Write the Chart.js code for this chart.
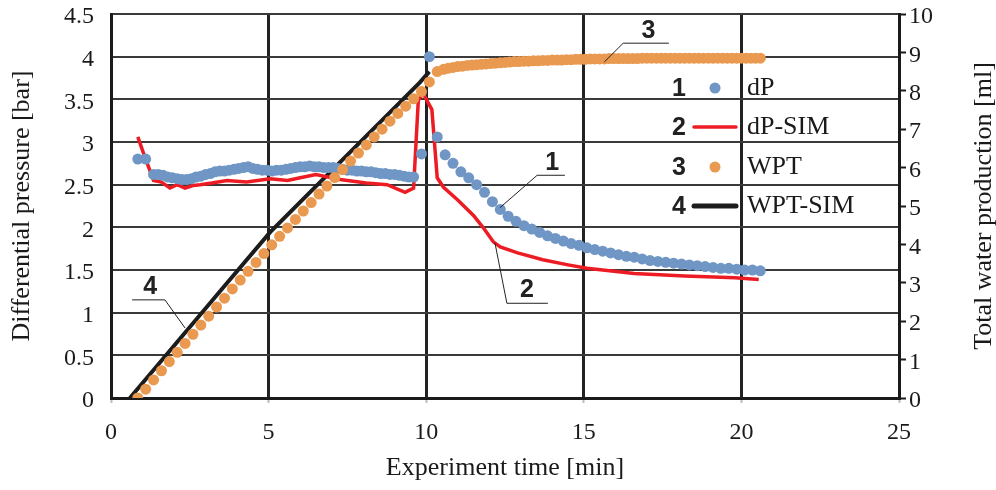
<!DOCTYPE html>
<html>
<head>
<meta charset="utf-8">
<script src="https://cdn.jsdelivr.net/npm/chart.js@4.4.1/dist/chart.umd.min.js"></script>
<style>
  body { margin: 0; background: #fff; }
  canvas { display: block; }
</style>
</head>
<body>
<canvas id="chart" width="996" height="490"></canvas>
<script>
// ---- data ----
// measured differential pressure (left axis)
const dpTime = [
  0.85, 1.10,
  1.35, 1.50, 1.65, 1.80, 1.95, 2.10, 2.25, 2.40, 2.55, 2.70,
  2.85, 3.00, 3.15, 3.30, 3.45, 3.60, 3.75, 3.90, 4.05, 4.20,
  4.35, 4.50, 4.65, 4.80, 4.95, 5.10, 5.25, 5.40, 5.55, 5.70,
  5.85, 6.00, 6.15, 6.30, 6.45, 6.60, 6.75, 6.90, 7.05, 7.20,
  7.35, 7.50, 7.65, 7.80, 7.95, 8.10, 8.25, 8.40, 8.55, 8.70,
  8.85, 9.00, 9.15, 9.30, 9.45, 9.60,
  9.85, 10.10, 10.35, 10.60, 10.85, 11.10, 11.35, 11.60, 11.85, 12.10,
  12.35, 12.60, 12.85, 13.10, 13.35, 13.60, 13.85, 14.10, 14.35, 14.60,
  14.85, 15.10, 15.35, 15.60, 15.85, 16.10, 16.35, 16.60, 16.85, 17.10,
  17.35, 17.60, 17.85, 18.10, 18.35, 18.60, 18.85, 19.10, 19.35, 19.60,
  19.85, 20.10, 20.35, 20.60
];
const dpValues = [
  2.80, 2.80,
  2.62, 2.62, 2.61, 2.59, 2.58, 2.57, 2.56, 2.56, 2.57, 2.59,
  2.60, 2.62, 2.63, 2.65, 2.66, 2.66, 2.67, 2.68, 2.69, 2.70,
  2.71, 2.69, 2.68, 2.67, 2.67, 2.66, 2.67, 2.67, 2.68, 2.69,
  2.70, 2.71, 2.71, 2.72, 2.71, 2.71, 2.70, 2.70, 2.70, 2.69,
  2.68, 2.67, 2.67, 2.66, 2.66, 2.65, 2.65, 2.64, 2.63, 2.63,
  2.62, 2.62, 2.61, 2.60, 2.59, 2.59,
  2.86, 4.00, 3.06, 2.85, 2.75, 2.65, 2.58, 2.50, 2.41, 2.30,
  2.21, 2.13, 2.07, 2.02, 1.98, 1.94, 1.90, 1.87, 1.84, 1.81,
  1.79, 1.76, 1.74, 1.72, 1.70, 1.68, 1.66, 1.65, 1.63, 1.61,
  1.60, 1.59, 1.58, 1.57, 1.56, 1.55, 1.54, 1.53, 1.52, 1.52,
  1.51, 1.50, 1.50, 1.49
];

// measured total water production (right axis)
const wptTime = [
  0.85, 1.10, 1.35, 1.60, 1.85, 2.10, 2.35, 2.60, 2.85, 3.10,
  3.35, 3.60, 3.85, 4.10, 4.35, 4.60, 4.85, 5.10, 5.35, 5.60,
  5.85, 6.10, 6.35, 6.60, 6.85, 7.10, 7.35, 7.60, 7.85, 8.10,
  8.35, 8.60, 8.85, 9.10, 9.35, 9.60, 9.85, 10.10, 10.35,
  10.55, 10.70, 10.85, 11.00, 11.15, 11.30, 11.45, 11.60, 11.75, 11.90,
  12.05, 12.20, 12.35, 12.50, 12.65, 12.80, 12.95, 13.10, 13.25, 13.40,
  13.55, 13.70, 13.85, 14.00, 14.15, 14.30, 14.45, 14.60, 14.75, 14.90,
  15.05, 15.20, 15.35, 15.50, 15.65, 15.80, 15.95, 16.10, 16.25, 16.40,
  16.55, 16.70, 16.85, 17.00, 17.15, 17.30, 17.45, 17.60, 17.75, 17.90,
  18.05, 18.20, 18.35, 18.50, 18.65, 18.80, 18.95, 19.10, 19.25, 19.40,
  19.55, 19.70, 19.85, 20.00, 20.15, 20.30, 20.45, 20.60
];
const wptValues = [
  0.00, 0.23, 0.47, 0.71, 0.95, 1.19, 1.42, 1.66, 1.90, 2.13,
  2.37, 2.60, 2.84, 3.07, 3.30, 3.53, 3.76, 3.99, 4.21, 4.43,
  4.65, 4.87, 5.09, 5.31, 5.52, 5.74, 5.95, 6.17, 6.38, 6.59,
  6.80, 7.00, 7.21, 7.41, 7.60, 7.79, 7.98, 8.23, 8.50,
  8.56, 8.59, 8.61, 8.63, 8.64, 8.66, 8.67, 8.68, 8.69, 8.70,
  8.71, 8.72, 8.73, 8.74, 8.75, 8.76, 8.76, 8.77, 8.77, 8.78,
  8.78, 8.79, 8.79, 8.80, 8.80, 8.80, 8.81, 8.81, 8.82, 8.82,
  8.82, 8.83, 8.83, 8.83, 8.83, 8.84, 8.84, 8.84, 8.84, 8.84,
  8.84, 8.84, 8.85, 8.85, 8.85, 8.85, 8.85, 8.85, 8.85, 8.85,
  8.85, 8.85, 8.85, 8.85, 8.85, 8.85, 8.85, 8.85, 8.85, 8.85,
  8.85, 8.85, 8.85, 8.85, 8.85, 8.85, 8.85, 8.85
];

// simulation
const dpSimTime = [
  0.85, 1.05, 1.35, 1.60, 1.87, 2.10, 2.35, 2.60, 2.83, 3.20,
  3.68, 4.30, 5.05, 5.60, 6.00, 6.50, 7.27, 8.10, 8.76, 9.33,
  9.60, 9.75, 9.90, 10.18, 10.35, 10.55, 11.00, 11.50, 11.80, 12.13,
  12.35, 12.90, 13.70, 14.50, 15.10, 16.60, 18.20, 19.80, 20.55
];
const dpSimValues = [
  3.06, 2.85, 2.55, 2.53, 2.46, 2.50, 2.46, 2.49, 2.50, 2.52,
  2.55, 2.53, 2.57, 2.55, 2.58, 2.62, 2.56, 2.52, 2.50, 2.41,
  2.46, 3.49, 3.57, 3.38, 2.58, 2.47, 2.32, 2.14, 2.00, 1.83,
  1.77, 1.70, 1.62, 1.56, 1.52, 1.46, 1.43, 1.41, 1.39
];
const wptSimTime = [0.60, 2.00, 3.50, 5.05, 6.50, 8.00, 9.00, 9.80, 10.10];
const wptSimValues = [0.00, 1.36, 2.82, 4.32, 5.51, 6.74, 7.56, 8.22, 8.50];

const seriesNames = ["dP", "dP-SIM", "WPT", "WPT-SIM"];
const xTitle = "Experiment time [min]";
const yTitle = "Differential pressure [bar]";
const y2Title = "Total water production [ml]";

// ---- helpers ----
function pairs(xs, ys) {
  return xs.map((x, i) => ({ x: x, y: ys[i] }));
}

// pin the plot box where the figure has it
function fixBox(size, key) {
  return s => {
    s[key] = size;
    s.paddingTop = 0;
    s.paddingBottom = 0;
    s.paddingLeft = 0;
    s.paddingRight = 0;
  };
}

const SERIF = "'Liberation Serif', 'Times New Roman', serif";
const SANS = "'Liberation Sans', Arial, sans-serif";
const BLUE = "#6f96c4";
const ORANGE = "#e99a50";
const RED = "#ed1c24";
const BLACK = "#1c1c1c";

// number callouts with leader lines, given in data units
const callouts = [
  { text: "3", axis: "y2", label: [17.05, 9.55], path: [[15.65, 8.75], [16.25, 9.24], [17.7, 9.24]] },
  { text: "1", axis: "y", label: [14.0, 2.75], path: [[12.34, 2.23], [13.52, 2.61], [14.4, 2.61]] },
  { text: "2", axis: "y", label: [13.2, 1.27], path: [[12.18, 1.82], [12.56, 1.11], [13.86, 1.11]] },
  { text: "4", axis: "y", label: [1.24, 1.30], path: [[2.35, 0.82], [1.71, 1.15], [0.67, 1.15]] }
];

const decorPlugin = {
  id: "decor",
  afterDatasetsDraw(chart) {
    const ctx = chart.ctx;
    const xs = chart.scales.x;
    ctx.save();

    // callouts
    callouts.forEach(c => {
      const ys = chart.scales[c.axis];
      ctx.strokeStyle = "#222";
      ctx.lineWidth = 1;
      ctx.beginPath();
      c.path.forEach((p, i) => {
        const px = xs.getPixelForValue(p[0]);
        const py = ys.getPixelForValue(p[1]);
        if (i === 0) ctx.moveTo(px, py); else ctx.lineTo(px, py);
      });
      ctx.stroke();
      ctx.fillStyle = "#222";
      ctx.font = "bold 25px " + SANS;
      ctx.textAlign = "center";
      ctx.textBaseline = "middle";
      ctx.fillText(c.text, xs.getPixelForValue(c.label[0]), ys.getPixelForValue(c.label[1]));
    });

    // legend
    const area = chart.chartArea;
    const numX = area.right - 220;
    const markX = area.right - 184;
    const textX = area.right - 152;
    const rowY = [area.top + 74, area.top + 113, area.top + 153, area.top + 192];
    const kinds = ["dot", "line", "dot", "line"];
    const colors = [BLUE, RED, ORANGE, BLACK];
    const widths = [0, 3.5, 0, 5];
    rowY.forEach((y, i) => {
      ctx.fillStyle = "#222";
      ctx.font = "bold 25px " + SANS;
      ctx.textAlign = "center";
      ctx.textBaseline = "middle";
      ctx.fillText(String(i + 1), numX, y + 1);
      if (kinds[i] === "dot") {
        ctx.fillStyle = colors[i];
        ctx.beginPath();
        ctx.arc(markX, y, 5.5, 0, Math.PI * 2);
        ctx.fill();
      } else {
        ctx.strokeStyle = colors[i];
        ctx.lineWidth = widths[i];
        ctx.lineCap = "round";
        ctx.beginPath();
        ctx.moveTo(markX - 21, y);
        ctx.lineTo(markX + 21, y);
        ctx.stroke();
      }
      ctx.fillStyle = "#1a1a1a";
      ctx.font = "26px " + SERIF;
      ctx.textAlign = "left";
      ctx.fillText(seriesNames[i], textX, y);
    });
    ctx.restore();
  },
  afterDraw(chart) {
    const ctx = chart.ctx;
    const area = chart.chartArea;
    const midY = (area.top + area.bottom) / 2;
    ctx.save();
    ctx.fillStyle = "#1a1a1a";
    ctx.font = "26px " + SERIF;
    ctx.textAlign = "center";
    ctx.textBaseline = "middle";
    ctx.fillText(xTitle, (area.left + area.right) / 2, 468);

    ctx.translate(22, midY);
    ctx.rotate(-Math.PI / 2);
    ctx.fillText(yTitle, 0, 0);
    ctx.restore();

    ctx.save();
    ctx.fillStyle = "#1a1a1a";
    ctx.font = "26px " + SERIF;
    ctx.textAlign = "center";
    ctx.textBaseline = "middle";
    ctx.translate(984, midY);
    ctx.rotate(-Math.PI / 2);
    ctx.fillText(y2Title, 0, 0);
    ctx.restore();
  }
};

const tickFont = { family: SERIF, size: 24 };

new Chart(document.getElementById("chart"), {
  type: "scatter",
  data: {
    datasets: [
      {
        label: "WPT",
        data: pairs(wptTime, wptValues),
        yAxisID: "y2",
        pointRadius: 5.5,
        pointBackgroundColor: ORANGE,
        pointBorderWidth: 0,
        showLine: false,
        order: 0
      },
      {
        label: "dP",
        data: pairs(dpTime, dpValues),
        yAxisID: "y",
        pointRadius: 5.5,
        pointBackgroundColor: BLUE,
        pointBorderWidth: 0,
        showLine: false,
        order: 1
      },
      {
        label: "dP-SIM",
        data: pairs(dpSimTime, dpSimValues),
        yAxisID: "y",
        showLine: true,
        borderColor: RED,
        borderWidth: 3.5,
        pointRadius: 0,
        tension: 0,
        order: 2
      },
      {
        label: "WPT-SIM",
        data: pairs(wptSimTime, wptSimValues),
        yAxisID: "y2",
        showLine: true,
        borderColor: BLACK,
        borderWidth: 4,
        pointRadius: 0,
        tension: 0,
        order: 3
      }
    ]
  },
  options: {
    responsive: false,
    animation: false,
    layout: { padding: { top: 14, left: 0, right: 0, bottom: 0 } },
    plugins: {
      legend: { display: false },
      tooltip: { enabled: false }
    },
    scales: {
      x: {
        type: "linear",
        min: 0,
        max: 25,
        afterFit: fixBox(92, "height"),
        ticks: { stepSize: 5, font: tickFont, color: "#1a1a1a", padding: 15, maxRotation: 0 },
        grid: { color: "#222", lineWidth: 3, tickLength: 5, tickColor: "#bbb", tickWidth: 2 },
        border: { display: true, color: "#1a1a1a", width: 3 }
      },
      y: {
        position: "left",
        min: 0,
        max: 4.5,
        afterFit: fixBox(111, "width"),
        ticks: {
          stepSize: 0.5, font: tickFont, color: "#1a1a1a", padding: 17, labelOffset: 3,
          callback: v => String(v)
        },
        grid: { color: "#3a3a3a", lineWidth: 2, drawTicks: false },
        border: { display: true, color: "#1a1a1a", width: 3 }
      },
      y2: {
        position: "right",
        min: 0,
        max: 10,
        afterFit: fixBox(97, "width"),
        ticks: { stepSize: 1, font: tickFont, color: "#1a1a1a", padding: 3, labelOffset: 3 },
        grid: { drawOnChartArea: false, drawTicks: true, tickLength: 7, tickColor: "#1a1a1a", tickWidth: 2 },
        border: { display: true, color: "#1a1a1a", width: 3 }
      }
    }
  },
  plugins: [decorPlugin]
});
</script>
</body>
</html>
